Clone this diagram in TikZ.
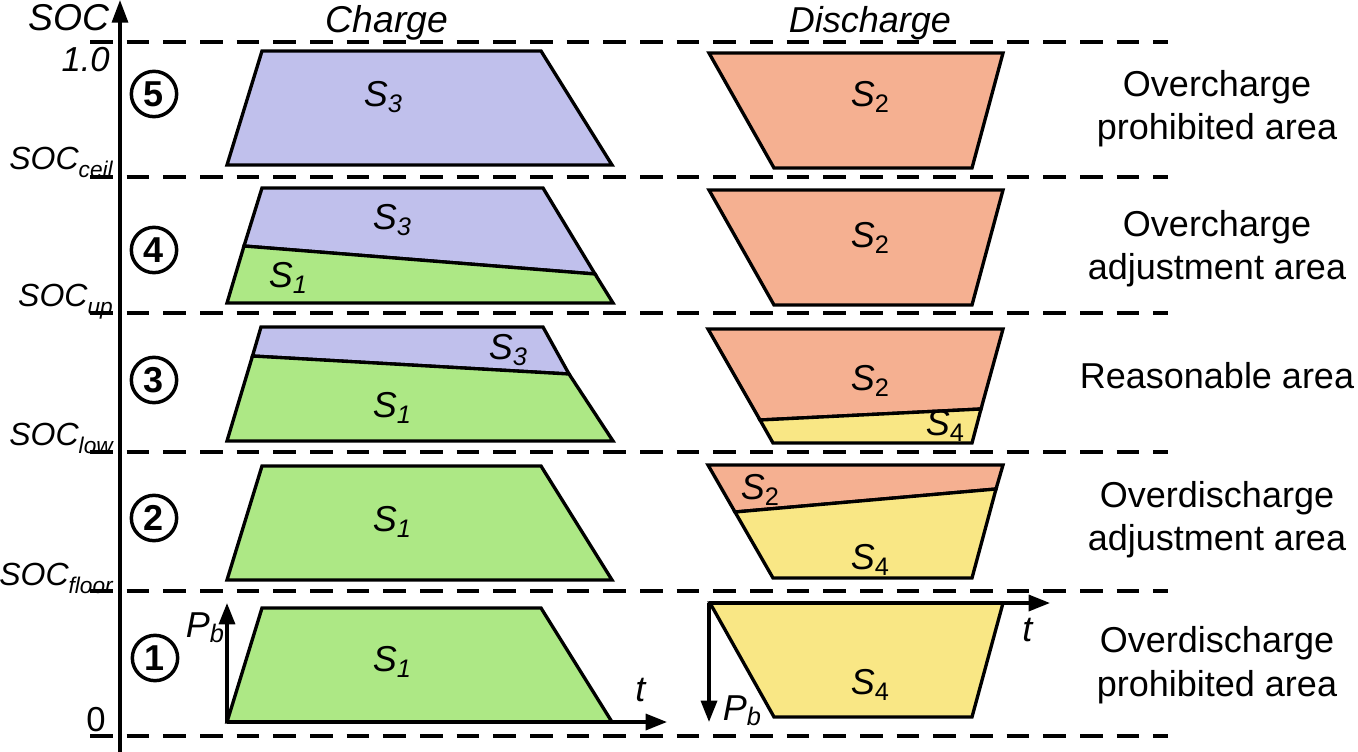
\documentclass[tikz,border=0pt]{standalone}
\usepackage{fontspec}
\setmainfont{Liberation Sans}
\usetikzlibrary{arrows.meta}
\definecolor{cLav}{RGB}{192,192,236}
\definecolor{cGreen}{RGB}{173,232,133}
\definecolor{cSalmon}{RGB}{245,176,145}
\definecolor{cYellow}{RGB}{249,231,133}
\newcommand{\mysub}[1]{\raisebox{-4pt}{\fontsize{19}{19}\selectfont #1}}
\newcommand{\lsub}[1]{\raisebox{-6pt}{\fontsize{17}{17}\selectfont #1}}
\newcommand{\Sc}[1]{\textit{S}\mysub{\textit{#1}}}
\newcommand{\Sd}[1]{\textit{S}\mysub{#1}}
\begin{document}
\begin{tikzpicture}[x=0.75pt,y=-0.75pt,
  dashline/.style={line width=2.5pt, dash pattern=on 17pt off 10.5pt},
  trap/.style={draw, line width=2.5pt, line join=miter},
  axarrow/.style={line width=2.5pt, -{Triangle[length=16pt,width=12pt]}},
  slbl/.style={font=\fontsize{27}{32}\selectfont, inner sep=0pt},
  area/.style={font=\fontsize{27}{32}\selectfont, anchor=base, inner sep=0pt},
  hdr/.style={font=\fontsize{27}{32}\selectfont\itshape, anchor=base, inner sep=0pt},
  soclbl/.style={font=\fontsize{24}{28}\selectfont\itshape, anchor=base east, inner sep=0pt},
  num/.style={circle, draw, line width=2.6pt, minimum size=34pt, inner sep=0pt,
    font=\fontsize{27}{27}\selectfont\bfseries}]
\useasboundingbox (0,0) rectangle (1358,752);

% dashed level lines
\foreach \yy in {42,177,313,452,591,736}
  \draw[dashline] (90,\yy) -- (1168,\yy);

% main SOC axis
\coordinate (axB) at (120,752);
\coordinate (axT) at (120,0);
\draw[line width=2.5pt, -{Triangle[length=17pt,width=12pt]}] (axB) -- (axT);

% left labels
\node[hdr, anchor=base east, font=\fontsize{28}{32}\selectfont\itshape] (soc) at (110,31) {SOC};
\node[hdr, anchor=base east, font=\fontsize{26}{30}\selectfont\itshape] (one) at (110,72) {1.0};
\node[soclbl] (ceil) at (113,170) {SOC\lsub{ceil}};
\node[soclbl] (up) at (113,306) {SOC\lsub{up}};
\node[soclbl] (low) at (113,445) {SOC\lsub{low}};
\node[soclbl] (floor) at (113,585) {SOC\lsub{floor}};
\node[soclbl, font=\fontsize{26}{30}\selectfont] (zero) at (106,731) {0};

% headers
\node[hdr, font=\fontsize{28}{32}\selectfont\itshape] (hC) at (387,33) {Charge};
\node[hdr] (hD) at (870,33) {Discharge};

% circled numbers
\node[num] (n5) at (154,94) {5};
\node[num] (n4) at (154,250) {4};
\node[num] (n3) at (154,380) {3};
\node[num] (n2) at (154,518) {2};
\node[num] (n1) at (155,658) {1};

% ---- Charge column ----
\draw[trap, fill=cLav] (262,51) -- (541,51) -- (612,165) -- (227,165) -- cycle;
\node[slbl] (c5s3) at (383,97) {\Sc{3}};

\draw[trap, fill=cLav] (262,188) -- (543,188) -- (595,274) -- (244,246) -- cycle;
\draw[trap, fill=cGreen] (244,246) -- (595,274) -- (613,303) -- (227,303) -- cycle;
\node[slbl] (c4s3) at (392,220) {\Sc{3}};
\node[slbl] (c4s1) at (288,278) {\Sc{1}};

\draw[trap, fill=cLav] (261,327) -- (543,327) -- (569,374) -- (252.5,356) -- cycle;
\draw[trap, fill=cGreen] (252.5,356) -- (569,374) -- (613,441) -- (227,441) -- cycle;
\node[slbl] (c3s3) at (508,350) {\Sc{3}};
\node[slbl] (c3s1) at (392,408) {\Sc{1}};

\draw[trap, fill=cGreen] (262,466) -- (541,466) -- (612,580) -- (227,580) -- cycle;
\node[slbl] (c2s1) at (392,522) {\Sc{1}};

\draw[trap, fill=cGreen] (262,608) -- (541,608) -- (612,722) -- (227,722) -- cycle;
\node[slbl] (c1s1) at (392,662) {\Sc{1}};
\coordinate (co) at (227,722);
\coordinate (cPb) at (227,603);
\coordinate (ct) at (667,722);
\draw[axarrow] (co) -- (cPb);
\draw[axarrow] (co) -- (ct);
\node[slbl] (cPbl) at (205,628) {\textit{P}\mysub{\textit{b}}};
\node[slbl] (ctl) at (641,690) {\textit{t}};

% ---- Discharge column ----
\draw[trap, fill=cSalmon] (709,53) -- (1003,53) -- (972,168) -- (774,168) -- cycle;
\node[slbl] (d5s2) at (870,97) {\Sd{2}};

\draw[trap, fill=cSalmon] (709,190) -- (1003,190) -- (972,305) -- (774,305) -- cycle;
\node[slbl] (d4s2) at (870,238) {\Sd{2}};

\draw[trap, fill=cSalmon] (708,329) -- (1003,329) -- (981,409) -- (760,420) -- cycle;
\draw[trap, fill=cYellow] (760,420) -- (981,409) -- (972,443) -- (773,443) -- cycle;
\node[slbl] (d3s2) at (870,381) {\Sd{2}};
\node[slbl] (d3s4) at (945,426) {\Sd{4}};

\draw[trap, fill=cSalmon] (708,465) -- (1003,465) -- (996,489) -- (735,512) -- cycle;
\draw[trap, fill=cYellow] (735,512) -- (996,489) -- (972,578) -- (773,578) -- cycle;
\node[slbl] (d2s2) at (760,490) {\Sd{2}};
\node[slbl] (d2s4) at (870,560) {\Sd{4}};

\draw[trap, fill=cYellow] (710,603) -- (1003,603) -- (972,717) -- (774,717) -- cycle;
\node[slbl] (d1s4) at (870,685) {\Sd{4}};
\coordinate (do) at (709,603);
\coordinate (dt) at (1050,603);
\coordinate (dPb) at (709,722);
\draw[axarrow] (do) -- (dt);
\draw[axarrow] (do) -- (dPb);
\node[slbl] (dtl) at (1028,630) {\textit{t}};
\node[slbl] (dPbl) at (742,711) {\textit{P}\mysub{\textit{b}}};

% ---- right labels ----
\node[area] (a5a) at (1217,97) {Overcharge};
\node[area] (a5b) at (1217,140) {prohibited area};
\node[area] (a4a) at (1217,236) {Overcharge};
\node[area] (a4b) at (1217,279) {adjustment area};
\node[area] (a3) at (1217,388) {Reasonable area};
\node[area] (a2a) at (1217,507) {Overdischarge};
\node[area] (a2b) at (1217,550) {adjustment area};
\node[area] (a1a) at (1217,652) {Overdischarge};
\node[area] (a1b) at (1217,696) {prohibited area};
\end{tikzpicture}
\end{document}
